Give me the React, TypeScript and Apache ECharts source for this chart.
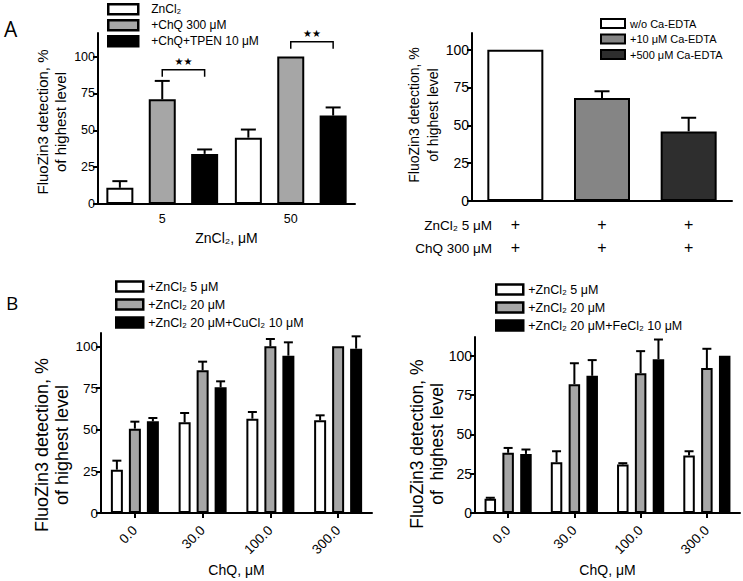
import React, { useEffect, useRef } from 'react';
import * as echarts from 'echarts';

const FONT = 'Liberation Sans, Arial, sans-serif';

// ---------- Panel A (left) ----------
const a1Categories = ['5', '50'];
const a1Names = ['ZnCl₂', '+ChQ 300 μM', '+ChQ+TPEN 10 μM'];
const a1Zn = [11, 45];
const a1ZnErr = [4.5, 5.5];
const a1ChQ = [71, 100];
const a1ChQErr = [12.5, 0];
const a1Tpen = [34, 60];
const a1TpenErr = [3, 5.5];
const a1BracketLevels = [91, 110];
const a1Stars = ['★★', '★★'];

// ---------- Panel A (right) ----------
const a2Names = ['w/o Ca-EDTA', '+10 μM Ca-EDTA', '+500 μM Ca-EDTA'];
const a2Values = [100, 68, 46];
const a2Errs = [0, 4.5, 9];
const a2RowLabels = ['ZnCl₂ 5 μM', 'ChQ 300 μM'];
const a2Marks = ['+', '+'];

// ---------- Panel B ----------
const bCategories = ['0.0', '30.0', '100.0', '300.0'];
const b1Names = ['+ZnCl₂ 5 μM', '+ZnCl₂ 20 μM', '+ZnCl₂ 20 μM+CuCl₂ 10 μM'];
const b1Zn5 = [26, 54.4, 56.6, 55.6];
const b1Zn5Err = [5.4, 5.6, 4, 3];
const b1Zn20 = [50.6, 85.6, 100, 100];
const b1Zn20Err = [4.2, 5.2, 4.4, 0];
const b1Cu = [55, 75.4, 94.4, 98.6];
const b1CuErr = [2, 3.6, 8, 7.4];

const b2Names = ['+ZnCl₂ 5 μM', '+ZnCl₂ 20 μM', '+ZnCl₂ 20 μM+FeCl₂ 10 μM'];
const b2Zn5 = [9.1, 32.3, 30.9, 36.6];
const b2Zn5Err = [0.6, 7, 0.8, 2.7];
const b2Zn20 = [38.3, 82, 89, 92.2];
const b2Zn20Err = [3.1, 13.3, 14, 12.3];
const b2Fe = [37.6, 87.3, 97.9, 100];
const b2FeErr = [2.8, 10, 12.5, 0];

const yTicks = [0, 25, 50, 75, 100];
const yName = 'FluoZin3 detection, %\nof highest level';
const yNameB2 = 'FluoZin3 detection, %\nof  highest level';

function bar(name: string, data: any[], g: number, color: string, barWidth: number, barGap: string) {
  return {
    type: 'bar', name, data, xAxisIndex: g, yAxisIndex: g, barWidth, barGap,
    itemStyle: { color, borderColor: '#000', borderWidth: 2 },
    emphasis: { disabled: true }, silent: true, z: 2,
  };
}

function errBars(g: number, values: number[], errs: number[], offset: number, capW: number) {
  const data = values.map((v, i) => [i, v, errs[i]]).filter((d) => d[2] > 0);
  return {
    type: 'custom', xAxisIndex: g, yAxisIndex: g, data, encode: { x: 0, y: 1 }, z: 3, silent: true, clip: false,
    renderItem: (_p: any, api: any) => {
      const c = api.value(0), v = api.value(1), e = api.value(2);
      const base = api.coord([c, v]);
      const top = api.coord([c, v + e]);
      const x = base[0] + offset;
      const st = { stroke: '#000', lineWidth: 2 };
      return {
        type: 'group', children: [
          { type: 'line', shape: { x1: x, y1: base[1], x2: x, y2: top[1] }, style: st },
          { type: 'line', shape: { x1: x - capW / 2, y1: top[1], x2: x + capW / 2, y2: top[1] }, style: st },
        ],
      };
    },
  };
}

function yAxis(g: number, max: number, fontSize: number) {
  return {
    type: 'value', gridIndex: g, min: 0, max, interval: 25,
    axisLine: { show: true, lineStyle: { color: '#000', width: 2 } },
    axisTick: { show: true, length: 5, lineStyle: { color: '#000', width: 2 }, customValues: yTicks },
    axisLabel: { fontSize, color: '#000', margin: 3, fontFamily: FONT, customValues: yTicks },
    splitLine: { show: false },
  };
}

function legend(names: string[], left: number, top: number, itemWidth: number, itemHeight: number,
  fontSize: number, itemGap: number, borderWidth: number, padLeft: number) {
  return {
    data: names.map((n) => ({ name: n, icon: 'rect' })), orient: 'vertical', left, top, padding: 0,
    itemWidth, itemHeight, itemGap, selectedMode: false,
    itemStyle: { borderWidth, borderColor: '#000' },
    textStyle: { fontSize, fontFamily: FONT, color: '#000', lineHeight: fontSize, padding: [0, 0, 0, padLeft] },
  };
}

function bXAxis(g: number) {
  return {
    type: 'category', gridIndex: g, data: bCategories,
    axisLine: { lineStyle: { color: '#000', width: 2 } },
    axisTick: { show: true, alignWithLabel: true, length: 5, lineStyle: { color: '#000', width: 2 } },
    axisLabel: { fontSize: 13.5, color: '#000', rotate: 45, margin: 15, padding: [12, 0, 0, 0] },
    name: 'ChQ, μM', nameLocation: 'middle', nameGap: 50,
    nameTextStyle: { fontSize: 14, color: '#000' },
  };
}

function buildOption() {
  const A1_W = 27, A1_GAP = 0.57, A1_D = A1_W * (1 + A1_GAP);
  const B1_W = 12, B1_GAP = 0.5, B1_D = B1_W * (1 + B1_GAP);
  const B2_W = 11.5, B2_GAP = 0.55, B2_D = B2_W * (1 + B2_GAP);
  const oneAt = (i: number) => a2Values.map((v, j) => (j === i ? v : '-'));

  return {
    animation: false,
    textStyle: { fontFamily: FONT, color: '#000' },
    grid: [
      { left: 98, top: 33, width: 257, height: 171, outerBoundsMode: 'none' },
      { left: 472, top: 33, width: 260, height: 168, outerBoundsMode: 'none' },
      { left: 101, top: 333, width: 271, height: 180, outerBoundsMode: 'none' },
      { left: 475, top: 337, width: 265, height: 176, outerBoundsMode: 'none' },
    ],
    xAxis: [
      {
        type: 'category', gridIndex: 0, data: a1Categories,
        axisLine: { lineStyle: { color: '#000', width: 2 } }, axisTick: { show: false },
        axisLabel: { fontSize: 12.5, color: '#000', margin: 8 },
        name: 'ZnCl₂, μM', nameLocation: 'middle', nameGap: 27,
        nameTextStyle: { fontSize: 14, color: '#000' },
      },
      {
        type: 'category', gridIndex: 1, data: a2Names,
        axisLine: { lineStyle: { color: '#000', width: 2 } }, axisTick: { show: false },
        axisLabel: { fontSize: 16, color: '#000', margin: 12, lineHeight: 23, formatter: () => a2Marks.join('\n') },
      },
      bXAxis(2),
      bXAxis(3),
    ],
    yAxis: [yAxis(0, 116, 12.5), yAxis(1, 111, 14), yAxis(2, 108, 13.5), yAxis(3, 112, 14)],
    legend: [
      legend(a1Names, 107, 3, 30, 10, 12, 3.5, 2.5, 8),
      legend(a2Names, 600, 18, 24, 9, 11, 4.5, 2, 0),
      legend(b1Names, 115, 280, 27, 10, 12.5, 5, 2.5, 0),
      legend(b2Names, 495, 283, 27, 10, 12.5, 5, 2.5, 0),
    ],
    series: [
      bar(a1Names[0], a1Zn, 0, '#ffffff', A1_W, '57%'),
      bar(a1Names[1], a1ChQ, 0, '#a6a6a6', A1_W, '57%'),
      bar(a1Names[2], a1Tpen, 0, '#000000', A1_W, '57%'),
      errBars(0, a1Zn, a1ZnErr, -A1_D, 15),
      errBars(0, a1ChQ, a1ChQErr, 0, 15),
      errBars(0, a1Tpen, a1TpenErr, A1_D, 15),
      {
        type: 'custom', xAxisIndex: 0, yAxisIndex: 0, clip: false, silent: true, z: 4,
        data: a1BracketLevels.map((lv, i) => [i, lv]), encode: { x: 0, y: 1 },
        renderItem: (p: any, api: any) => {
          const pt = api.coord([api.value(0), api.value(1)]);
          const x1 = pt[0], x2 = pt[0] + A1_D, y = pt[1];
          const st = { stroke: '#000', lineWidth: 1.5, fill: 'none' };
          return {
            type: 'group', children: [
              { type: 'polyline', shape: { points: [[x1, y + 7], [x1, y], [x2, y], [x2, y + 7]] }, style: st },
              {
                type: 'text', style: {
                  text: a1Stars[p.dataIndex], x: (x1 + x2) / 2, y: y - 3, align: 'center', verticalAlign: 'bottom',
                  fontSize: 10, fontFamily: 'DejaVu Sans', fill: '#000',
                },
              },
            ],
          };
        },
      },
      bar(a2Names[0], oneAt(0), 1, '#ffffff', 56, '-100%'),
      bar(a2Names[1], oneAt(1), 1, '#858585', 56, '-100%'),
      bar(a2Names[2], oneAt(2), 1, '#2e2e2e', 56, '-100%'),
      errBars(1, a2Values, a2Errs, 0, 15),
      bar(b1Names[0], b1Zn5, 2, '#ffffff', B1_W, '50%'),
      bar(b1Names[1], b1Zn20, 2, '#a6a6a6', B1_W, '50%'),
      bar(b1Names[2], b1Cu, 2, '#000000', B1_W, '50%'),
      errBars(2, b1Zn5, b1Zn5Err, -B1_D, 9),
      errBars(2, b1Zn20, b1Zn20Err, 0, 9),
      errBars(2, b1Cu, b1CuErr, B1_D, 9),
      bar(b2Names[0], b2Zn5, 3, '#ffffff', B2_W, '55%'),
      bar(b2Names[1], b2Zn20, 3, '#a6a6a6', B2_W, '55%'),
      bar(b2Names[2], b2Fe, 3, '#000000', B2_W, '55%'),
      errBars(3, b2Zn5, b2Zn5Err, -B2_D, 9),
      errBars(3, b2Zn20, b2Zn20Err, 0, 9),
      errBars(3, b2Fe, b2FeErr, B2_D, 9),
    ],
    graphic: [
      { type: 'text', left: 4, top: 18, style: { text: 'A', fontSize: 21, fontFamily: 'Open Sans', fill: '#000' } },
      { type: 'text', left: 6, top: 293, style: { text: 'B', fontSize: 19, fontFamily: 'Open Sans', fill: '#000' } },
      {
        type: 'text', x: 51, y: 122, rotation: Math.PI / 2,
        style: { text: yName, align: 'center', verticalAlign: 'middle', fontSize: 15, lineHeight: 18, fontFamily: FONT, fill: '#000' },
      },
      {
        type: 'text', x: 423, y: 115, rotation: Math.PI / 2,
        style: { text: yName, align: 'center', verticalAlign: 'middle', fontSize: 14, lineHeight: 19, fontFamily: FONT, fill: '#000' },
      },
      {
        type: 'text', x: 52, y: 445, rotation: Math.PI / 2,
        style: { text: yName, align: 'center', verticalAlign: 'middle', fontSize: 18, lineHeight: 20, fontFamily: FONT, fill: '#000' },
      },
      {
        type: 'text', x: 427, y: 444, rotation: Math.PI / 2,
        style: { text: yNameB2, align: 'center', verticalAlign: 'middle', fontSize: 17.5, lineHeight: 20, fontFamily: FONT, fill: '#000' },
      },
      {
        type: 'text', x: 492, y: 225,
        style: { text: a2RowLabels[0], align: 'right', verticalAlign: 'middle', fontSize: 13.5, fontFamily: FONT, fill: '#000' },
      },
      {
        type: 'text', x: 492, y: 248,
        style: { text: a2RowLabels[1], align: 'right', verticalAlign: 'middle', fontSize: 13.5, fontFamily: FONT, fill: '#000' },
      },
    ],
  };
}

export default function App() {
  const ref = useRef<HTMLDivElement>(null);
  useEffect(() => {
    const chart = echarts.init(ref.current!, undefined, { renderer: 'svg' });
    chart.setOption(buildOption() as any);
    return () => chart.dispose();
  }, []);
  return (
    <div
      ref={ref}
      style={{ position: 'absolute', left: 0, top: 0, width: 743, height: 581, background: '#fff' }}
    />
  );
}
